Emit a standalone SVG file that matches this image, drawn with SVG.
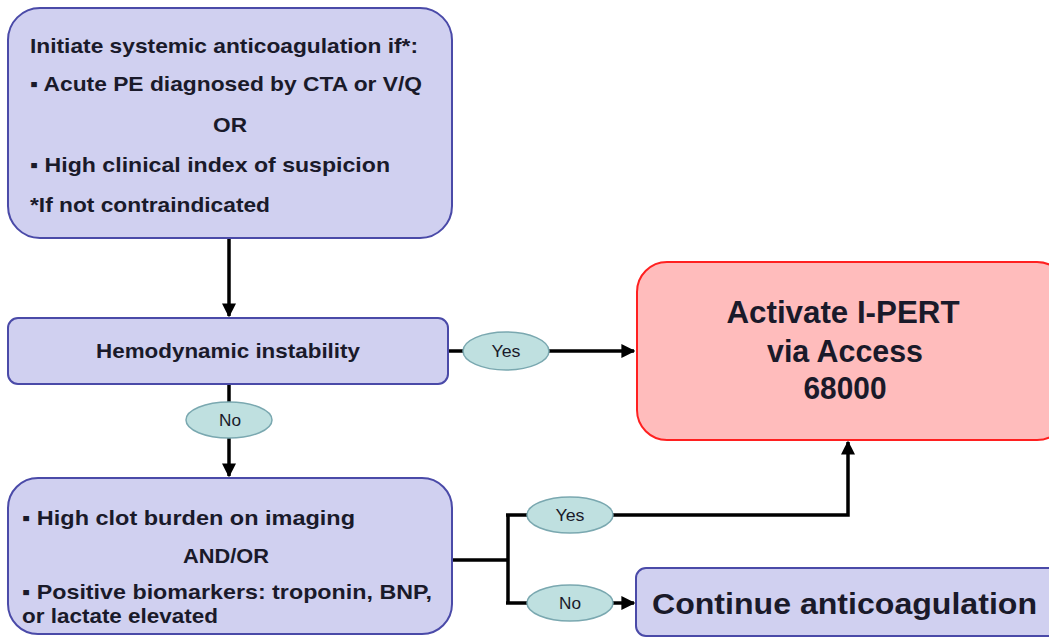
<svg xmlns="http://www.w3.org/2000/svg" width="1049" height="639" viewBox="0 0 1049 639">
<defs>
<style>
.box{fill:#d0d0f0;stroke:#4a4aa8;stroke-width:2}
.red{fill:#ffbcbc;stroke:#ff2020;stroke-width:2}
.oval{fill:#bfe0e0;stroke:#7aa8b0;stroke-width:1.5}
.t{font-family:"Liberation Sans",Arial,sans-serif;font-weight:bold;fill:#1a1a2a}
.s{font-size:20.5px}
.o{font-size:16px;font-weight:normal;text-anchor:middle}
.big{font-size:31px;text-anchor:middle}
.ln{fill:none;stroke:#000;stroke-width:3.5}
</style>
<marker id="ah" viewBox="0 0 10 10" refX="9" refY="5" markerWidth="4" markerHeight="4" orient="auto" markerUnits="strokeWidth">
<path d="M0,0 L10,5 L0,10 z" fill="#000"/>
</marker>
</defs>
<rect width="1049" height="639" fill="#fff"/>
<g id="connectors">
<path class="ln" d="M229,238 V316" marker-end="url(#ah)"/>
<path class="ln" d="M448,351 H463"/>
<path class="ln" d="M549,351 H634" marker-end="url(#ah)"/>
<path class="ln" d="M229,384 V402"/>
<path class="ln" d="M229,438 V476" marker-end="url(#ah)"/>
<path class="ln" d="M452,560 H508 M508,515 V603 M506,515 H527 M506,603 H527"/>
<path class="ln" d="M613,515 H848 V442" marker-end="url(#ah)"/>
<path class="ln" d="M613,603 H634" marker-end="url(#ah)"/>
</g>
<g id="n1">
<rect class="box" x="8" y="8" width="444" height="230" rx="32"/>
<text class="t s" x="30" y="53" textLength="388" lengthAdjust="spacingAndGlyphs">Initiate systemic anticoagulation if*:</text>
<text class="t s" x="30" y="91" textLength="392" lengthAdjust="spacingAndGlyphs">▪ Acute  PE diagnosed by CTA  or V/Q</text>
<text class="t s" x="230" y="132" text-anchor="middle" textLength="34" lengthAdjust="spacingAndGlyphs">OR</text>
<text class="t s" x="30" y="172" textLength="360" lengthAdjust="spacingAndGlyphs">▪ High clinical index of suspicion</text>
<text class="t s" x="30" y="212" textLength="240" lengthAdjust="spacingAndGlyphs">*If not contraindicated</text>
</g>
<g id="n2">
<rect class="box" x="8" y="318" width="440" height="66" rx="10"/>
<text class="t s" x="228" y="358" text-anchor="middle" textLength="264" lengthAdjust="spacingAndGlyphs">Hemodynamic instability</text>
</g>
<g id="yes1">
<ellipse class="oval" cx="506" cy="351" rx="43" ry="19"/>
<text class="t o" x="506" y="357" textLength="29" lengthAdjust="spacingAndGlyphs">Yes</text>
</g>
<g id="no1">
<ellipse class="oval" cx="229" cy="420" rx="43" ry="18"/>
<text class="t o" x="230" y="426" textLength="22" lengthAdjust="spacingAndGlyphs">No</text>
</g>
<g id="n3">
<rect class="box" x="8" y="478" width="444" height="156" rx="30"/>
<text class="t s" x="22" y="525" textLength="333" lengthAdjust="spacingAndGlyphs">▪ High clot burden on imaging</text>
<text class="t s" x="226" y="563" text-anchor="middle" textLength="86" lengthAdjust="spacingAndGlyphs">AND/OR</text>
<text class="t s" x="22" y="599" textLength="410" lengthAdjust="spacingAndGlyphs">▪ Positive biomarkers: troponin, BNP,</text>
<text class="t s" x="22" y="623" textLength="196" lengthAdjust="spacingAndGlyphs">or lactate elevated</text>
</g>
<g id="yes2">
<ellipse class="oval" cx="570" cy="515" rx="43" ry="18"/>
<text class="t o" x="570" y="521" textLength="29" lengthAdjust="spacingAndGlyphs">Yes</text>
</g>
<g id="no2">
<ellipse class="oval" cx="570" cy="603" rx="43" ry="18"/>
<text class="t o" x="570" y="609" textLength="22" lengthAdjust="spacingAndGlyphs">No</text>
</g>
<g id="n4">
<rect class="red" x="637" y="262" width="430" height="178" rx="30"/>
<text class="t big" x="843" y="323" textLength="233" lengthAdjust="spacingAndGlyphs">Activate I-PERT</text>
<text class="t big" x="845" y="362" textLength="156" lengthAdjust="spacingAndGlyphs">via Access</text>
<text class="t big" x="845" y="399" textLength="83" lengthAdjust="spacingAndGlyphs">68000</text>
</g>
<g id="n5">
<rect class="box" x="636" y="568" width="430" height="68" rx="10"/>
<text class="t" x="652" y="614" font-size="29" textLength="385" lengthAdjust="spacingAndGlyphs">Continue anticoagulation</text>
</g>
</svg>
